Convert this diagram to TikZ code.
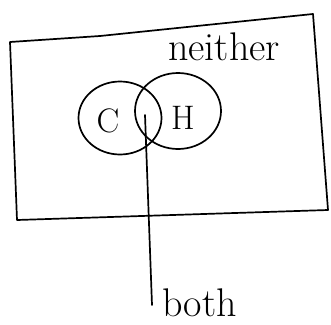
\documentclass[tikz,border=0pt]{standalone}
\usetikzlibrary{shapes.geometric}
\begin{document}
\begin{tikzpicture}[x=1pt,y=-1pt,
  ink/.style={line width=1.7pt, line join=round, line cap=round},
  setring/.style={ink, draw, ellipse, inner sep=0pt},
  letter/.style={inner sep=0pt, font=\fontsize{34}{34}\selectfont},
  word/.style={inner sep=0pt, font=\fontsize{40}{40}\selectfont}]
\useasboundingbox (0,0) rectangle (331,324);
% universe rectangle (hand drawn, slightly skewed)
\draw[ink] (10,42) -- (100,36) -- (313,14) -- (328,210) -- (17,220) -- cycle;
% sets
\node[setring, minimum width=83pt, minimum height=73pt] (C) at (120,118) {};
\node[setring, minimum width=86pt, minimum height=76pt] (H) at (178,111) {};
\node[letter] (Clab) at (108,121) {C};
\node[letter] (Hlab) at (183,118) {H};
\node[word, anchor=base west] (neither) at (168,60) {neither};
\node[word, anchor=base west] (both) at (162,316) {both};
% pointer to intersection
\coordinate (inside) at (145,115);
\coordinate (tail) at (152,305);
\draw[ink] (inside) -- (tail);
\end{tikzpicture}
\end{document}
